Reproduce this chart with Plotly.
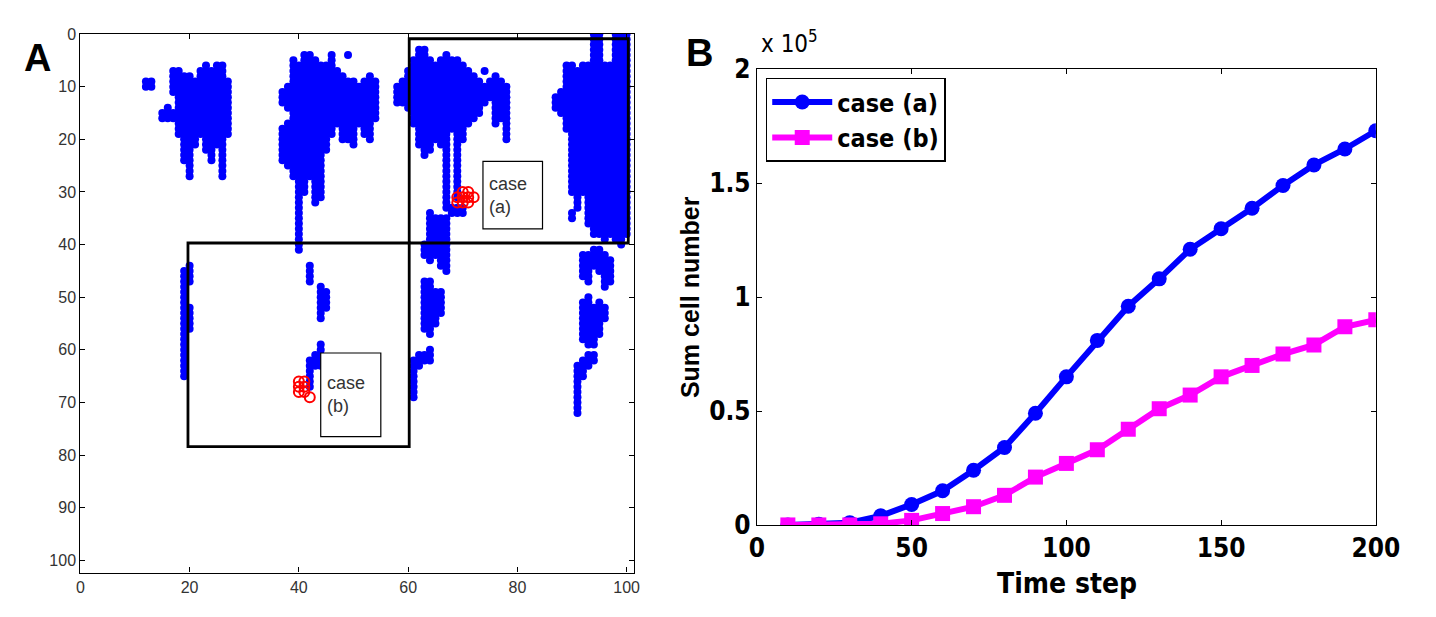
import plotly.graph_objects as go

# ---------------- Panel A data (grid cells, runs of rows per column) ----------------
blue_col = [12, 13,
            15, 16, 17, 17, 18, 19, 20, 21, 22, 23, 24, 25, 26, 27,
            37, 37, 38, 38, 39, 40, 41, 42, 43, 44, 45, 46, 47, 48, 49, 49, 50, 51, 52, 53, 54,
            42, 44, 45, 44, 43, 42,
            19, 20, 20,
            58, 59, 60, 61, 62, 63, 64, 65, 66, 67, 68, 69, 70, 71, 72, 73, 74, 74, 75, 76, 77, 78,
            67, 68, 69, 70,
            63, 64, 65, 66, 67,
            63, 64, 65, 66,
            61, 62, 63, 64,
            87, 88, 89, 90, 90, 91, 92, 93, 94, 95, 96, 97, 98, 99, 100,
            92, 93, 94, 95, 96, 97,
            92, 93, 94, 95, 96,
            91, 92, 93, 94]
blue_row_start = [9, 9,
                  15, 14, 7, 15, 7, 8, 8, 9, 7, 6, 7, 6, 6, 9,
                  11, 18, 10, 17, 5, 6, 4, 4, 5, 6, 6, 4, 7, 8, 4, 9, 9, 10, 9, 8, 9,
                  44, 48, 49, 59, 61, 62,
                  45, 44, 52,
                  10, 9, 7, 5, 3, 3, 5, 6, 5, 4, 5, 5, 6, 7, 8, 9, 7, 10, 9, 8, 9, 10,
                  32, 33, 33, 33,
                  40, 34, 35, 35, 35,
                  47, 47, 49, 49,
                  62, 61, 61, 60,
                  12, 11, 6, 6, 34, 7, 6, 6, 0, 0, 6, 6, 0, 0, 0,
                  42, 42, 41, 41, 42, 43,
                  51, 50, 52, 51, 52,
                  63, 62, 61, 61]
blue_row_end = [10, 10,
                16, 16, 11, 16, 19, 24, 27, 21, 19, 22, 24, 21, 27, 19,
                13, 24, 14, 25, 27, 41, 30, 27, 32, 31, 22, 19, 17, 20, 4, 20, 21, 17, 19, 20, 16,
                47, 54, 52, 63, 63, 67,
                65, 47, 56,
                13, 13, 14, 17, 21, 23, 22, 20, 21, 31, 18, 31, 20, 17, 16, 15, 7, 13, 12, 17, 16, 20,
                33, 34, 34, 34,
                42, 43, 42, 44, 45,
                56, 57, 55, 53,
                69, 63, 62, 62,
                14, 15, 18, 30, 35, 33, 30, 36, 38, 38, 39, 38, 39, 40, 38,
                46, 47, 44, 45, 48, 47,
                58, 59, 59, 57, 54,
                72, 65, 63, 62]

red_a_x = [69, 70, 70, 70, 71, 71, 71, 69, 72]
red_a_y = [31, 30, 31, 32, 30, 31, 32, 32, 31]
red_b_x = [40, 41, 40, 41, 41, 42, 40]
red_b_y = [67, 67, 68, 68, 66, 69, 66]

rect_a = [60.2, 0.9, 100.3, 39.7]
rect_b = [19.7, 39.7, 60.2, 78.4]
box_a = [73.7, 24.2, 84.6, 37.0]
box_b = [44.0, 60.6, 55.0, 76.5]
label_a = ["case", "(a)"]
label_b = ["case", "(b)"]
a_ticks = [0, 10, 20, 30, 40, 50, 60, 70, 80, 90, 100]
ax_ticks = [0, 20, 40, 60, 80, 100]

# ---------------- Panel B data ----------------
time_step = [10, 20, 30, 40, 50, 60, 70, 80, 90, 100, 110, 120, 130, 140, 150, 160, 170, 180, 190, 200]
case_a_1e5 = [0.0, 0.003, 0.01, 0.04, 0.09, 0.15, 0.24, 0.34, 0.49, 0.65, 0.81, 0.96,
              1.08, 1.21, 1.30, 1.39, 1.49, 1.58, 1.65, 1.73]
case_b_1e5 = [0.0, 0.0, 0.0, 0.005, 0.02, 0.05, 0.08, 0.13, 0.21, 0.27, 0.33, 0.42,
              0.51, 0.57, 0.65, 0.70, 0.75, 0.79, 0.87, 0.90]
b_yticks = [0, 0.5, 1, 1.5, 2]
b_yticklabels = ["0", "0.5", "1", "1.5", "2"]
b_xticks = [0, 50, 100, 150, 200]

# expand runs into cell coordinates
bx, by = [], []
for c, r0, r1 in zip(blue_col, blue_row_start, blue_row_end):
    for r in range(r0, r1 + 1):
        bx.append(c)
        by.append(r)

W, H = 1436, 617
def dx(p):
    return p / W
def dy(p):
    return 1 - p / H

NARROW = "Liberation Sans Narrow, DejaVu Sans Condensed, Liberation Sans, sans-serif"
SANS = "Liberation Sans, Arial, sans-serif"

fig = go.Figure()

fig.add_trace(go.Scatter(x=bx, y=by, mode="markers", xaxis="x", yaxis="y",
                         marker=dict(symbol="circle", size=8, color="#0000FF",
                                     line=dict(width=0)),
                         showlegend=False, hoverinfo="skip"))
for rx, ry in [(red_a_x, red_a_y), (red_b_x, red_b_y)]:
    fig.add_trace(go.Scatter(x=rx, y=ry, mode="markers", xaxis="x", yaxis="y",
                             marker=dict(symbol="circle-open", size=10, color="#FF0000",
                                         line=dict(width=2, color="#FF0000")),
                             showlegend=False, hoverinfo="skip"))

fig.add_trace(go.Scatter(x=time_step, y=case_a_1e5, mode="lines+markers", name="case (a)",
                         xaxis="x2", yaxis="y2",
                         line=dict(color="#0000FF", width=6),
                         marker=dict(symbol="circle", size=15, color="#0000FF")))
fig.add_trace(go.Scatter(x=time_step, y=case_b_1e5, mode="lines+markers", name="case (b)",
                         xaxis="x2", yaxis="y2",
                         line=dict(color="#FF00FF", width=6),
                         marker=dict(symbol="square", size=15, color="#FF00FF")))

shapes = []
for r in (rect_a, rect_b):
    shapes.append(dict(type="rect", xref="x", yref="y", x0=r[0], y0=r[1], x1=r[2], y1=r[3],
                       line=dict(color="black", width=2.8), fillcolor="rgba(0,0,0,0)"))
for r in (box_a, box_b):
    shapes.append(dict(type="rect", xref="x", yref="y", x0=r[0], y0=r[1], x1=r[2], y1=r[3],
                       line=dict(color="black", width=1.2), fillcolor="white"))

a_font = dict(family=SANS, size=16, color="#333333")
b_font = dict(family=NARROW, size=26, color="black")

annotations = []
for box, lab in ((box_a, label_a), (box_b, label_b)):
    annotations.append(dict(xref="x", yref="y", x=box[0] + 0.7, y=(box[1] + box[3]) / 2,
                            text="<br>".join(lab), showarrow=False, xanchor="left",
                            yanchor="middle", align="left",
                            font=dict(family=SANS, size=18, color="#333333")))
annotations += [
    dict(xref="paper", yref="paper", x=dx(30), y=dy(45), text="<b>A</b>", showarrow=False,
         xanchor="center", yanchor="middle",
         font=dict(family=SANS, size=38, color="black")),
    dict(xref="paper", yref="paper", x=dx(707), y=dy(40), text="<b>B</b>", showarrow=False,
         xanchor="center", yanchor="middle",
         font=dict(family=SANS, size=38, color="black")),
    dict(xref="paper", yref="paper", x=dx(768), y=dy(28), text="x 10<sup>5</sup>",
         showarrow=False, xanchor="left", yanchor="middle",
         font=dict(family=NARROW, size=24, color="black")),
    dict(xref="paper", yref="paper", x=dx(697), y=dy(296), text="<b>Sum cell number</b>",
         showarrow=False, textangle=-90, xanchor="center", yanchor="middle",
         font=dict(family=SANS, size=25, color="black")),
    dict(xref="paper", yref="paper", x=dx(1083), y=dy(598), text="<b>Time step</b>",
         showarrow=False, xanchor="center", yanchor="middle",
         font=dict(family=NARROW, size=28, color="black")),
]

axis_common = dict(showline=True, linecolor="black", linewidth=1.2, mirror="allticks",
                   ticks="inside", ticklen=5, tickcolor="black", showgrid=False, zeroline=False)

fig.update_layout(
    width=W, height=H, margin=dict(l=0, r=0, t=0, b=0),
    paper_bgcolor="white", plot_bgcolor="white",
    xaxis=dict(domain=[dx(74), dx(640)], range=[0, 101.3], tickvals=ax_ticks,
               tickfont=a_font, anchor="y", **axis_common),
    yaxis=dict(domain=[dy(586), dy(20)], range=[102.3, 0], tickvals=a_ticks,
               tickfont=a_font, anchor="x", **axis_common),
    xaxis2=dict(domain=[dx(766), dx(1399)], range=[0, 200], tickvals=b_xticks,
                ticktext=["<b>%d</b>" % t for t in b_xticks],
                tickfont=b_font, anchor="y2", **axis_common),
    yaxis2=dict(domain=[dy(536), dy(57)], range=[0, 2], tickvals=b_yticks,
                ticktext=["<b>%s</b>" % t for t in b_yticklabels],
                tickfont=b_font, anchor="x2", **axis_common),
    shapes=shapes, annotations=annotations,
    legend=dict(x=dx(775), y=dy(66), xanchor="left", yanchor="top",
                bgcolor="white", bordercolor="black", borderwidth=1.5,
                font=dict(family=NARROW, size=25, color="black", weight="bold"),
                itemwidth=60, tracegroupgap=0),
)

fig.write_html("out.html")
